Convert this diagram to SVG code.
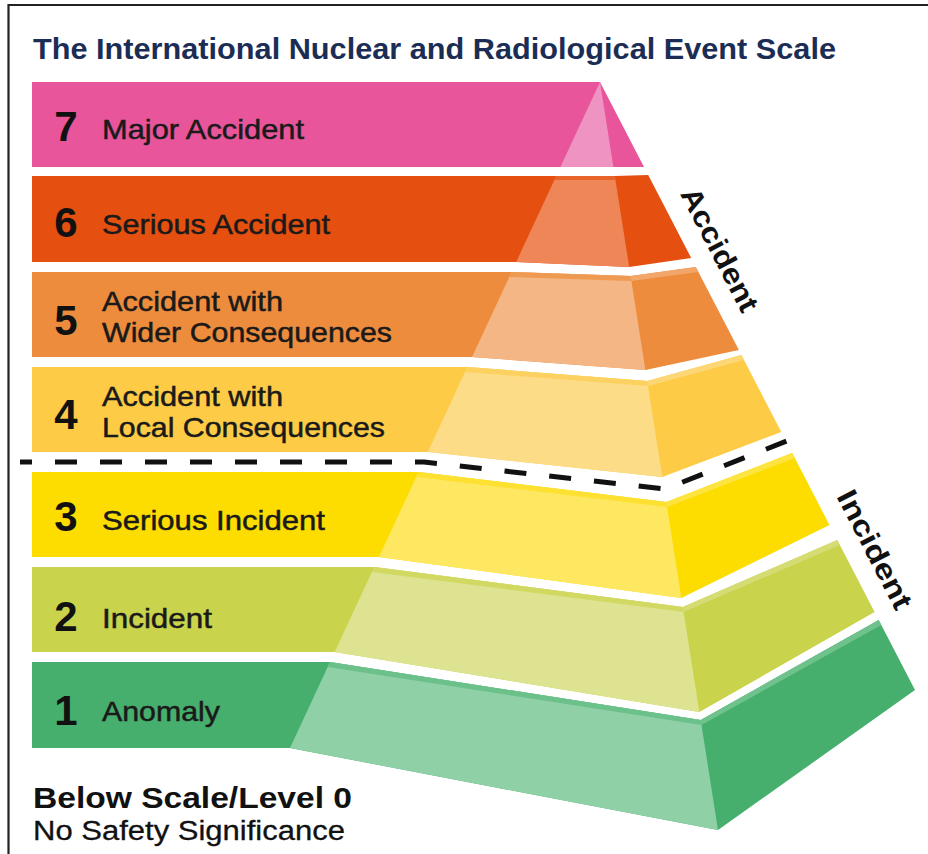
<svg xmlns="http://www.w3.org/2000/svg" width="928" height="854" viewBox="0 0 928 854">
<style>
.num{font-family:"Liberation Sans",Arial,sans-serif;font-weight:bold;font-size:42px;fill:#111;text-anchor:middle}
.lbl{font-family:"Liberation Sans",Arial,sans-serif;font-size:28px;fill:#1a1a1a;stroke:#1a1a1a;stroke-width:0.5}
.side{font-family:"Liberation Sans",Arial,sans-serif;font-weight:bold;font-size:29px;fill:#111;text-anchor:middle}
.frame{stroke:#222;stroke-width:2.2;fill:none}
</style>
<rect x="0" y="0" width="928" height="854" fill="#fff"/>
<path class="frame" d="M8.5,854 V5 H928"/>
<text x="33" y="59" font-family="Liberation Sans, Arial, sans-serif" font-weight="bold" font-size="29" fill="#1B2D55" textLength="803" lengthAdjust="spacingAndGlyphs">The International Nuclear and Radiological Event Scale</text>

<g id="level7">
<polygon points="32,82 600,82 644,167 32,167" fill="#E8559A"/>
<polygon points="600,82 560.4,167 613.4,167" fill="#EF93C2"/>
<text class="num" x="66" y="141">7</text>
<text class="lbl" x="102" y="139" textLength="202" lengthAdjust="spacingAndGlyphs">Major Accident</text>
</g>

<g id="level6">
<polygon points="32,176 556.2,176 614.8,176 648.2,175 691.2,258 629.2,267 516.2,262 32,262" fill="#E54F10"/>
<polygon points="556.2,176 614.8,176 629.2,267 516.2,262" fill="#EE8658"/>
<polygon points="556.2,176 614.8,176 615.6,180 554.3,180" fill="#E8642A"/>
<text class="num" x="66" y="237">6</text>
<text class="lbl" x="102" y="234" textLength="228" lengthAdjust="spacingAndGlyphs">Serious Accident</text>
</g>

<g id="level5">
<polygon points="32,272 511.6,272 630.6,276 695.8,267 738.9,350 645.4,370 472,357 32,357" fill="#EE8C3D"/>
<polygon points="511.6,272 630.6,276 645.4,370 472,357" fill="#F4B684"/>
<polygon points="511.6,272 630.6,276 631.4,281 509.3,277" fill="#EF9A52"/>
<polygon points="630.6,276 695.8,267 698.4,272 631.4,281" fill="#F2A66A"/>
<text class="num" x="66" y="335">5</text>
<text class="lbl" x="102" y="311" textLength="181" lengthAdjust="spacingAndGlyphs">Accident with</text>
<text class="lbl" x="102" y="342" textLength="290" lengthAdjust="spacingAndGlyphs">Wider Consequences</text>
</g>

<g id="level4">
<polygon points="32,367 467.3,367 647.2,381 741.4,355 781.3,432 662.3,477 427.8,452 32,452" fill="#FDCB46"/>
<polygon points="467.3,367 647.2,381 662.3,477 427.8,452" fill="#FDDC88"/>
<polygon points="467.3,367 647.2,381 648,386 465,372" fill="#FDD160"/>
<polygon points="647.2,381 741.4,355 744,360 648,386" fill="#FDD676"/>
<text class="num" x="66" y="429">4</text>
<text class="lbl" x="102" y="406" textLength="181" lengthAdjust="spacingAndGlyphs">Accident with</text>
<text class="lbl" x="102" y="437" textLength="283" lengthAdjust="spacingAndGlyphs">Local Consequences</text>
</g>

<g id="level3">
<polygon points="32,472 418.5,472 666.3,502 792.2,453 829.5,525 681.4,598 378.9,557 32,557" fill="#FDDC00"/>
<polygon points="418.5,472 666.3,502 681.4,598 378.9,557" fill="#FEE862"/>
<polygon points="418.5,472 666.3,502 667.1,507 416.2,477" fill="#FDE030"/>
<polygon points="666.3,502 792.2,453 794.8,458 667.1,507" fill="#FDE440"/>
<text class="num" x="66" y="531">3</text>
<text class="lbl" x="102" y="530" textLength="223" lengthAdjust="spacingAndGlyphs">Serious Incident</text>
</g>

<g id="level2">
<polygon points="32,567 374.2,567 682.8,607 837.3,540 874.6,612 699.4,712 334.7,652 32,652" fill="#C9D34B"/>
<polygon points="374.2,567 682.8,607 699.4,712 334.7,652" fill="#DEE391"/>
<polygon points="374.2,567 682.8,607 683.6,612 371.9,572" fill="#D2D962"/>
<polygon points="682.8,607 837.3,540 839.9,545 683.6,612" fill="#D6DC74"/>
<text class="num" x="66" y="631">2</text>
<text class="lbl" x="102" y="628" textLength="110" lengthAdjust="spacingAndGlyphs">Incident</text>
</g>

<g id="level1">
<polygon points="32,662 330,662 700.7,720 878.7,620 915,690 718,830 290,748 32,748" fill="#46AF6D"/>
<polygon points="330,662 700.7,720 718,830 290,748" fill="#8FD0A7"/>
<polygon points="330,662 700.7,720 701.5,725 327.7,667" fill="#6CC08A"/>
<polygon points="700.7,720 878.7,620 881.3,625 701.5,725" fill="#70C28D"/>
<text class="num" x="66" y="725">1</text>
<text class="lbl" x="102" y="721" textLength="118" lengthAdjust="spacingAndGlyphs">Anomaly</text>
</g>

<g id="connectors">
<path d="M20,462 H424 L665,489 L797,437" fill="none" stroke="#111" stroke-width="5" stroke-dasharray="22 23" stroke-dashoffset="10"/>
</g>

<g id="category-labels">
<text class="side" transform="translate(711,254) rotate(62.6)" textLength="136" lengthAdjust="spacingAndGlyphs">Accident</text>
<text class="side" transform="translate(866,554) rotate(62.6)" textLength="130" lengthAdjust="spacingAndGlyphs">Incident</text>
</g>

<g id="below-scale">
<text x="33" y="808" font-family="Liberation Sans, Arial, sans-serif" font-weight="bold" font-size="30" fill="#111" textLength="319" lengthAdjust="spacingAndGlyphs">Below Scale/Level 0</text>
<text x="33" y="840" font-family="Liberation Sans, Arial, sans-serif" font-size="27" fill="#111" stroke="#111" stroke-width="0.3" textLength="312" lengthAdjust="spacingAndGlyphs">No Safety Significance</text>
</g>
</svg>
